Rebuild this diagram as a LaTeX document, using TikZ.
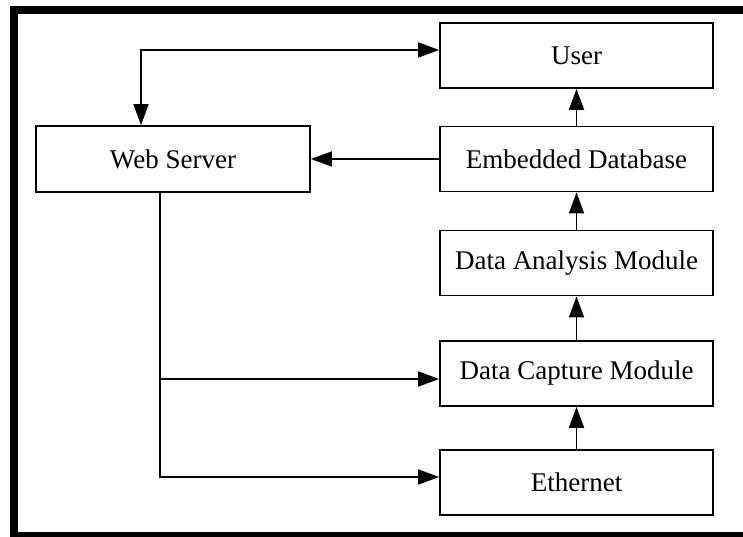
\documentclass[tikz,border=0pt]{standalone}
\usepackage{fontspec}
\setmainfont{Liberation Serif}
\usetikzlibrary{arrows.meta}

\tikzset{
  tip/.tip={Triangle[length=21pt,width=15pt]},
  block/.style={draw,line width=1.7pt,minimum width=273pt,minimum height=65pt,
    inner sep=0pt,font=\fontsize{27}{32}\selectfont},
  link/.style={line width=1.7pt,-tip},
}

\begin{document}
\begin{tikzpicture}[x=1pt,y=-1pt]
\clip (0,0) rectangle (743,537);
\draw[line width=8pt] (14,10) rectangle (751,536);
% right column
\node[block] (user) at (576.5,55.5) {User};
\node[block] (edb) at (576.5,159) {Embedded Database};
\node[block] (dam) at (576.5,263) {Data Analysis Module};
\node[block] (dcm) at (576.5,373.5) {Data Capture Module};
\node[block] (eth) at (576.5,482.5) {Ethernet};
% left
\node[block,minimum width=274pt,minimum height=66pt] (web) at (173,159) {Web Server};
\coordinate (tap) at ([xshift=-13pt]web.south);
\foreach \A/\B in {eth/dcm,dcm/dam,dam/edb,edb/user}
  \draw[link] (\A) -- (\B);
\draw[link] (edb) -- (web);
\draw[link,tip-tip] ([xshift=-32pt]web.north) |- ([yshift=5.5pt]user.west);
\draw[link] (tap) |- ([yshift=-5.5pt]dcm.west);
\draw[link] (tap) |- ([yshift=5.5pt]eth.west);
\end{tikzpicture}
\end{document}
